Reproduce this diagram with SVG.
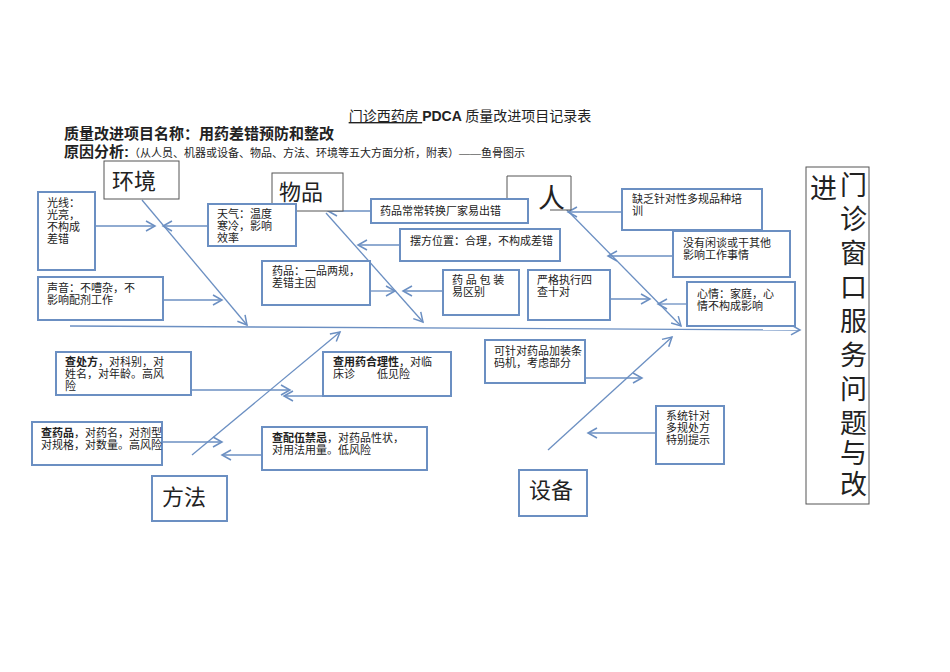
<svg xmlns="http://www.w3.org/2000/svg" width="950" height="672" viewBox="0 0 950 672">
<style>
text{font-family:"Liberation Serif","Noto Sans CJK SC",serif;fill:#222}
.b{fill:#fff;stroke:#6b8fc2;stroke-width:2}
.k{fill:#fff;stroke:#555;stroke-width:1}
.t{font-size:11px}
.c{font-size:22px}
.v{font-size:27px}
.l{stroke:#6b8fc2;stroke-width:1.3;fill:none;marker-end:url(#a)}
.h{font-family:"Liberation Sans","Noto Sans CJK SC",sans-serif;font-weight:bold}
</style>
<defs><marker id="a" markerWidth="12" markerHeight="12" refX="10" refY="6" orient="auto" markerUnits="userSpaceOnUse"><path d="M1,1 L10,6 L1,11" fill="none" stroke="#6b8fc2" stroke-width="1.5"/></marker></defs>
<rect width="950" height="672" fill="#fff"/>
<g id="header">
<text x="470" y="121" text-anchor="middle" font-size="14"><tspan text-decoration="underline">门诊西药房 </tspan><tspan font-family="Liberation Sans" font-weight="bold">PDCA</tspan> 质量改进项目记录表</text>
<text x="64" y="139" class="h" font-size="15">质量改进项目名称：用药差错预防和整改</text>
<text x="64" y="157" font-size="15"><tspan class="h">原因分析:</tspan><tspan font-size="11">（从人员、机器或设备、物品、方法、环境等五大方面分析，附表）——鱼骨图示</tspan></text>
</g>
<g id="connectors">
<line x1="70" y1="326" x2="800" y2="330" class="l"/>
<line x1="142" y1="200" x2="247" y2="325" class="l"/>
<line x1="326" y1="213" x2="423" y2="322" class="l"/>
<line x1="565" y1="208" x2="681" y2="326" class="l"/>
<line x1="192" y1="455" x2="340" y2="332" class="l"/>
<line x1="548" y1="450" x2="672" y2="337" class="l"/>
<line x1="95" y1="226" x2="155" y2="226" class="l"/>
<line x1="208" y1="226" x2="163" y2="226" class="l"/>
<line x1="163" y1="300" x2="222" y2="300" class="l"/>
<line x1="371" y1="211" x2="328" y2="211" class="l"/>
<line x1="400" y1="245" x2="358" y2="245" class="l"/>
<line x1="370" y1="291" x2="395" y2="291" class="l"/>
<line x1="443" y1="291" x2="403" y2="291" class="l"/>
<line x1="610" y1="299" x2="650" y2="299" class="l"/>
<line x1="687" y1="304" x2="658" y2="304" class="l"/>
<line x1="622" y1="212" x2="568" y2="212" class="l"/>
<line x1="673" y1="256" x2="608" y2="256" class="l"/>
<line x1="191" y1="390" x2="290" y2="390" class="l"/>
<line x1="323" y1="396" x2="284" y2="396" class="l"/>
<line x1="162" y1="442" x2="222" y2="442" class="l"/>
<line x1="262" y1="455" x2="222" y2="455" class="l"/>
<line x1="585" y1="378" x2="642" y2="378" class="l"/>
<line x1="656" y1="433" x2="588" y2="433" class="l"/>
</g>
<g id="hj"><rect x="104" y="161" width="75" height="38" class="k"/><text x="112" y="189" class="c">环境</text></g>
<g id="wp"><rect x="272" y="173" width="71" height="38" class="k"/><text x="279" y="200" class="c">物品</text></g>
<g id="ren"><path d="M507,210 V176 H571 V210 H550" class="k" fill="none"/><text x="538" y="208" class="v">人</text></g>
<g id="ff"><rect x="152" y="476" width="75" height="45" class="b"/><text x="162" y="505" class="c">方法</text></g>
<g id="sb"><rect x="519" y="470" width="68" height="46" class="b"/><text x="529" y="498" class="c">设备</text></g>
<g id="head"><rect x="806" y="167" width="63" height="337" class="k"/>
<text x="810" y="198" class="v">进</text>
<text x="840" y="195" class="v">门</text><text x="840" y="229" class="v">诊</text><text x="840" y="263" class="v">窗</text><text x="840" y="297" class="v">口</text><text x="840" y="331" class="v">服</text><text x="840" y="365" class="v">务</text><text x="840" y="399" class="v">问</text><text x="840" y="433" class="v">题</text><text x="840" y="463" class="v">与</text><text x="840" y="494" class="v">改</text></g>
<g id="n1"><rect x="38" y="192" width="57" height="78" class="b"/><text class="t" x="47" y="207">光线：</text><text class="t" x="47" y="219">光亮，</text><text class="t" x="47" y="231">不构成</text><text class="t" x="47" y="243">差错</text></g>
<g id="n2"><rect x="38" y="277" width="125" height="43" class="b"/><text class="t" x="47" y="292">声音：不嘈杂，不</text><text class="t" x="47" y="304">影响配剂工作</text></g>
<g id="n3"><rect x="208" y="204" width="88" height="42" class="b"/><text class="t" x="217" y="218">天气：温度</text><text class="t" x="217" y="230">寒冷，影响</text><text class="t" x="217" y="242">效率</text></g>
<g id="n4"><rect x="371" y="199" width="157" height="24" class="b"/><text class="t" x="380" y="215">药品常常转换厂家易出错</text></g>
<g id="n5"><rect x="400" y="229" width="160" height="32" class="b"/><text class="t" x="410" y="245">摆方位置：合理，不构成差错</text></g>
<g id="n6"><rect x="262" y="261" width="108" height="44" class="b"/><text class="t" x="272" y="275">药品：一品两规，</text><text class="t" x="272" y="287">差错主因</text></g>
<g id="n7"><rect x="443" y="270" width="76" height="45" class="b"/><text class="t" x="452" y="284">药 品 包 装</text><text class="t" x="452" y="296">易区别</text></g>
<g id="n8"><rect x="528" y="270" width="82" height="50" class="b"/><text class="t" x="537" y="284">严格执行四</text><text class="t" x="537" y="296">查十对</text></g>
<g id="n9"><rect x="622" y="189" width="140" height="41" class="b"/><text class="t" x="632" y="203">缺乏针对性多规品种培</text><text class="t" x="632" y="215">训</text></g>
<g id="n10"><rect x="673" y="231" width="117" height="46" class="b"/><text class="t" x="683" y="247">没有闲谈或干其他</text><text class="t" x="683" y="259">影响工作事情</text></g>
<g id="n11"><rect x="687" y="282" width="108" height="44" class="b"/><text class="t" x="697" y="298">心情：家庭，心</text><text class="t" x="697" y="310">情不构成影响</text></g>
<g id="n12"><rect x="485" y="340" width="100" height="43" class="b"/><text class="t" x="494" y="355">可针对药品加装条</text><text class="t" x="494" y="367">码机，考虑部分</text></g>
<g id="n13"><rect x="656" y="406" width="68" height="58" class="b"/><text class="t" x="666" y="420">系统针对</text><text class="t" x="666" y="432">多规处方</text><text class="t" x="666" y="444">特别提示</text></g>
<g id="n14"><rect x="56" y="352" width="135" height="43" class="b"/><text class="t" x="65" y="366"><tspan font-weight="bold">查处方</tspan>，对科别，对</text><text class="t" x="65" y="378">姓名，对年龄。高风</text><text class="t" x="65" y="390">险</text></g>
<g id="n15"><rect x="323" y="352" width="128" height="44" class="b"/><text class="t" x="333" y="366"><tspan font-weight="bold">查用药合理性</tspan>，对临</text><text class="t" x="333" y="378">床诊　　低见险</text></g>
<g id="n16"><rect x="32" y="422" width="130" height="43" class="b"/><text class="t" x="41" y="437"><tspan font-weight="bold">查药品</tspan>，对药名，对剂型</text><text class="t" x="41" y="449">对规格，对数量。高风险</text></g>
<g id="n17"><rect x="262" y="427" width="165" height="43" class="b"/><text class="t" x="272" y="442"><tspan font-weight="bold">查配伍禁忌</tspan>，对药品性状，</text><text class="t" x="272" y="454">对用法用量。低风险</text></g>
</svg>
